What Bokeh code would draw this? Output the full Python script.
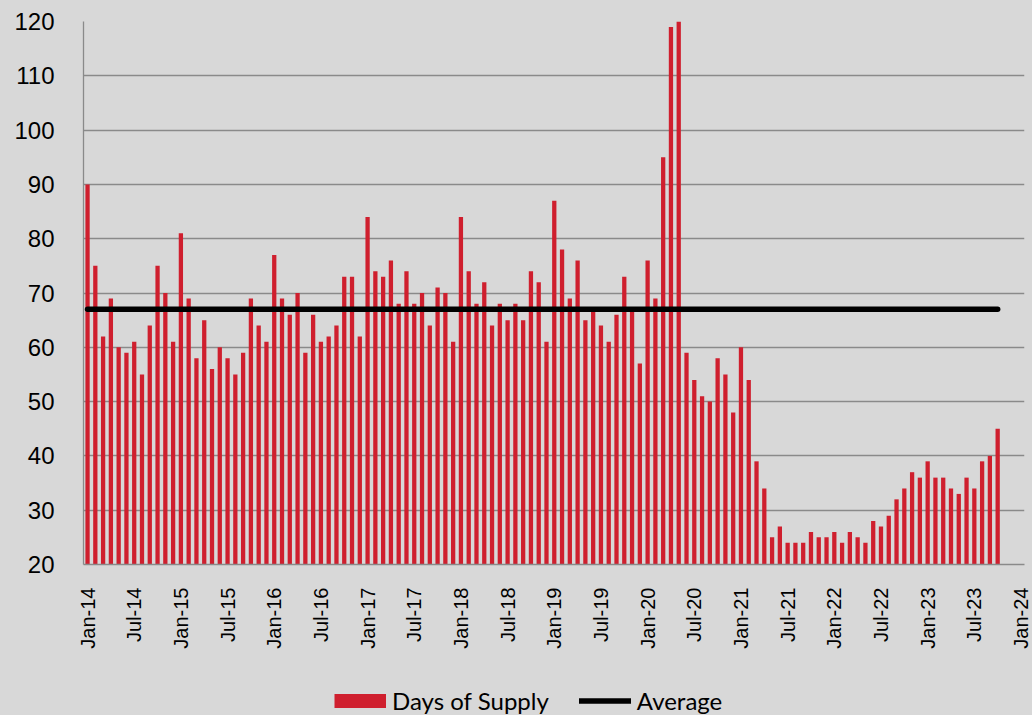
import math
import numpy as np
from bokeh.plotting import figure
from bokeh.models import (Range1d, FixedTicker, Legend, LegendItem,
                          ColumnDataSource, Column)
from bokeh.embed import file_html
from bokeh.resources import INLINE

# ---- data (monthly, Jan-14 .. Oct-23) ----
days_of_supply = [90, 75, 62, 69, 60, 59, 61, 55, 64, 75, 70, 61,
                  81, 69, 58, 65, 56, 60, 58, 55, 59, 69, 64, 61,
                  77, 69, 66, 70, 59, 66, 61, 62, 64, 73, 73, 62,
                  84, 74, 73, 76, 68, 74, 68, 70, 64, 71, 70, 61,
                  84, 74, 68, 72, 64, 68, 65, 68, 65, 74, 72, 61,
                  87, 78, 69, 76, 65, 67, 64, 61, 66, 73, 67, 57,
                  76, 69, 95, 119, 120, 59, 54, 51, 50, 58, 55, 48,
                  60, 54, 39, 34, 25, 27, 24, 24, 24, 26, 25, 25,
                  26, 24, 26, 25, 24, 28, 27, 29, 32, 34, 37, 36,
                  39, 36, 36, 34, 33, 36, 34, 39, 40, 45]
average_value = 67
tick_labels = ["Jan-14", "Jul-14", "Jan-15", "Jul-15", "Jan-16", "Jul-16",
               "Jan-17", "Jul-17", "Jan-18", "Jul-18", "Jan-19", "Jul-19",
               "Jan-20", "Jul-20", "Jan-21", "Jul-21", "Jan-22", "Jul-22",
               "Jan-23", "Jul-23", "Jan-24"]
y_ticks = [20, 30, 40, 50, 60, 70, 80, 90, 100, 110, 120]

months = list(range(len(days_of_supply)))
x_ticks = [6 * i for i in range(len(tick_labels))]

RED = "#cf1f2e"
GRID = "#8a8a8a"
BG = "#d8d8d8"

# ---- main chart ----
p = figure(width=1032, height=660,
           x_range=Range1d(-0.52, 120.45), y_range=Range1d(20, 120),
           output_backend="svg", toolbar_location=None,
           min_border_left=83, min_border_right=8,
           min_border_top=21, min_border_bottom=96)
p.background_fill_color = BG
p.border_fill_color = BG
p.outline_line_color = None

src = ColumnDataSource(dict(month=months, days=days_of_supply))
bars = p.vbar(x="month", top="days", bottom=20, width=0.55, source=src,
              fill_color=RED, line_color=None)
avg = p.line(x=[months[0], months[-1]], y=[average_value, average_value],
             line_width=5.5, line_color="black", line_cap="round")

p.yaxis.ticker = FixedTicker(ticks=y_ticks)
p.yaxis.major_label_text_font = "Liberation Sans"
p.yaxis.major_label_text_font_size = "24px"
p.yaxis.major_label_text_color = "black"
p.yaxis.major_label_standoff = 23
p.yaxis.major_tick_line_color = None
p.yaxis.minor_tick_line_color = None
p.yaxis.axis_line_color = GRID
p.yaxis.axis_line_width = 1.3

p.xaxis.ticker = FixedTicker(ticks=x_ticks)
p.xaxis.major_label_overrides = {t: lab for t, lab in zip(x_ticks, tick_labels)}
p.xaxis.major_label_orientation = math.pi / 2
p.xaxis.major_label_text_font = "Liberation Sans"
p.xaxis.major_label_text_font_size = "20px"
p.xaxis.major_label_text_color = "black"
p.xaxis.major_label_standoff = 17
p.xaxis.major_tick_line_color = None
p.xaxis.minor_tick_line_color = None
p.xaxis.axis_line_color = GRID
p.xaxis.axis_line_width = 1.3

p.ygrid.ticker = FixedTicker(ticks=y_ticks)
p.ygrid.grid_line_color = GRID
p.ygrid.grid_line_width = 1.3
p.xgrid.grid_line_color = None

# ---- legend strip under the chart ----
lg = figure(width=1032, height=55, x_range=Range1d(0, 1), y_range=Range1d(0, 1),
            x_axis_type=None, y_axis_type=None,
            output_backend="svg", toolbar_location=None,
            min_border=0)
lg.background_fill_alpha = 0
lg.border_fill_alpha = 0
lg.outline_line_color = None
nan_pt = np.array([np.nan])
bar_key = lg.line(x=nan_pt, y=nan_pt, line_color=RED, line_width=14, line_cap="butt")
avg_key = lg.line(x=nan_pt, y=nan_pt, line_color="black", line_width=5.5, line_cap="round")

legend = Legend(items=[LegendItem(label="Days of Supply", renderers=[bar_key]),
                       LegendItem(label="Average", renderers=[avg_key])],
                orientation="horizontal", location=(251, 0),
                glyph_width=52, glyph_height=29, label_height=29,
                label_standoff=6, spacing=30, padding=0, margin=0,
                border_line_color=None, background_fill_alpha=0,
                label_text_font="Lato", label_text_font_size="24px",
                label_text_color="black")
lg.add_layout(legend)

layout = Column(children=[p, lg], spacing=0,
                styles={"background-color": BG})
open("out.html", "w").write(file_html(layout, INLINE))
